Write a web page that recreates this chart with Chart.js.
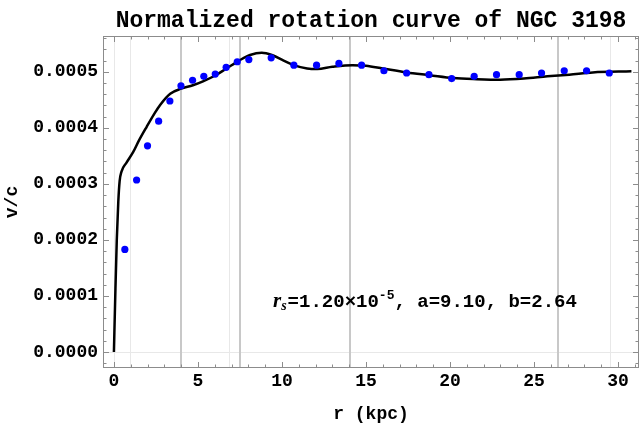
<!DOCTYPE html>
<html>
<head>
<meta charset="utf-8">
<script src="https://cdn.jsdelivr.net/npm/chart.js@4/dist/chart.umd.min.js"></script>
<style>
  html, body { margin: 0; padding: 0; background: #fff; }
  #wrap { width: 644px; height: 429px; position: relative; }
</style>
</head>
<body>
<div id="wrap"><canvas id="rotationChart"></canvas></div>
<script>
// observed rotation curve points (r in kpc, v/c)
const obsR = [0.65, 1.35, 2.0, 2.66, 3.33, 3.99, 4.68, 5.35, 6.03, 6.68, 7.34, 8.03, 9.36, 10.71,
    12.06, 13.39, 14.74, 16.07, 17.42, 18.75, 20.1, 21.44, 22.77, 24.12, 25.45, 26.8, 28.13, 29.48];
const obsV = [0.000183, 0.000307, 0.000368, 0.000412, 0.000448, 0.000475, 0.000485, 0.000492, 0.000496,
    0.000508, 0.000518, 0.000522, 0.000525, 0.000512, 0.000512, 0.000515, 0.000512, 0.000502, 0.000498,
    0.000495, 0.000488, 0.000492, 0.000495, 0.000495, 0.000498, 0.000502, 0.000502, 0.000498];

// fitted model curve
const fitR = [0, 0.08, 0.17, 0.26, 0.34, 0.45, 0.75, 1.15, 1.5, 1.95, 2.4, 2.75, 3.35, 4.0, 4.7, 5.3,
    6.0, 6.7, 7.5, 8.1, 8.8, 9.4, 10.1, 10.7, 11.5, 12.1, 13.0, 14.2, 15.0, 16.0, 17.4, 18.8, 20.2,
    21.6, 23.0, 24.4, 25.8, 27.1, 28.5, 30.8];
const fitV = [0, 0.0001, 0.0002, 0.000268, 0.000305, 0.000322, 0.000338, 0.000357, 0.000378, 0.000402,
    0.000425, 0.000441, 0.000461, 0.00047, 0.000476, 0.000483, 0.000493, 0.000506, 0.000521, 0.00053,
    0.000534, 0.00053, 0.00052, 0.000512, 0.000506, 0.000505, 0.000509, 0.000512, 0.000511, 0.000506,
    0.000499, 0.000494, 0.000489, 0.000487, 0.000486, 0.000488, 0.000492, 0.000495, 0.000499, 0.000501];

const xTicks = [0, 5, 10, 15, 20, 25, 30];
const yTicks = [0, 0.0001, 0.0002, 0.0003, 0.0004, 0.0005];
const thickLinesR = [4.0, 7.5, 14.05, 26.4];
const faintLinesR = [0, 0.95, 6.85, 29.5];

const titleText = 'Normalized rotation curve of NGC 3198';
const MONO = '"Liberation Mono", "DejaVu Sans Mono", monospace';

const framePlugin = {
    id: 'framePlugin',
    beforeDatasetsDraw(chart) {
        const { ctx, chartArea: a, scales: { x, y } } = chart;
        ctx.save();
        // faint grid lines
        ctx.strokeStyle = '#e8e8e8';
        ctx.lineWidth = 1;
        faintLinesR.forEach(r => {
            const px = Math.round(x.getPixelForValue(r)) + 0.5;
            ctx.beginPath(); ctx.moveTo(px, a.top); ctx.lineTo(px, a.bottom); ctx.stroke();
        });
        const py0 = Math.round(y.getPixelForValue(0)) + 0.5;
        ctx.beginPath(); ctx.moveTo(a.left, py0); ctx.lineTo(a.right, py0); ctx.stroke();
        // thick gray lines
        ctx.strokeStyle = '#c8c8c8';
        ctx.lineWidth = 2;
        thickLinesR.forEach(r => {
            const px = Math.round(x.getPixelForValue(r));
            ctx.beginPath(); ctx.moveTo(px, a.top); ctx.lineTo(px, a.bottom); ctx.stroke();
        });
        ctx.restore();
    },
    afterDatasetsDraw(chart) {
        const { ctx, chartArea: a, scales: { x, y } } = chart;
        ctx.save();
        ctx.strokeStyle = '#8c8c8c';
        ctx.lineWidth = 1;
        ctx.strokeRect(a.left + 0.5, a.top + 0.5, a.right - a.left - 1, a.bottom - a.top - 1);
        // inward ticks, x
        for (let i = 0; i <= 31; i++) {
            const px = Math.round(x.getPixelForValue(i)) + 0.5;
            const len = i % 5 === 0 ? 6 : 3.5;
            ctx.beginPath();
            ctx.moveTo(px, a.bottom); ctx.lineTo(px, a.bottom - len);
            ctx.moveTo(px, a.top); ctx.lineTo(px, a.top + len);
            ctx.stroke();
        }
        // inward ticks, y
        for (let j = -1; j <= 28; j++) {
            const val = j * 0.00002;
            if (val > y.max) break;
            const py = Math.round(y.getPixelForValue(val)) + 0.5;
            const len = j % 5 === 0 ? 6 : 3.5;
            ctx.beginPath();
            ctx.moveTo(a.left, py); ctx.lineTo(a.left + len, py);
            ctx.moveTo(a.right, py); ctx.lineTo(a.right - len, py);
            ctx.stroke();
        }
        ctx.restore();
    },
    afterDraw(chart) {
        const { ctx, chartArea: a } = chart;
        ctx.save();
        ctx.fillStyle = '#000';
        // title
        ctx.font = 'bold 23px ' + MONO;
        ctx.textAlign = 'center';
        ctx.textBaseline = 'alphabetic';
        ctx.fillText(titleText, (a.left + a.right) / 2, 27);
        // fit parameters
        ctx.textAlign = 'left';
        let tx = 273;
        const base = 307;
        ctx.font = 'bold italic 21px "Liberation Serif", serif';
        ctx.fillText('r', tx, base);
        tx += ctx.measureText('r').width;
        ctx.font = 'bold italic 14px "Liberation Serif", serif';
        ctx.fillText('s', tx, base + 3);
        tx += ctx.measureText('s').width + 1;
        ctx.font = 'bold 19px ' + MONO;
        ctx.fillText('=1.20\u00d710', tx, base);
        tx += ctx.measureText('=1.20\u00d710').width;
        ctx.font = 'bold 13px ' + MONO;
        ctx.fillText('-5', tx, base - 8);
        tx += ctx.measureText('-5').width;
        ctx.font = 'bold 19px ' + MONO;
        ctx.fillText(', a=9.10, b=2.64', tx, base);
        ctx.restore();
    }
};

const ctx = document.getElementById('rotationChart').getContext('2d');
new Chart(ctx, {
    type: 'scatter',
    data: {
        datasets: [{
            label: 'model',
            data: fitR.map((r, i) => ({ x: r, y: fitV[i] })),
            showLine: true,
            borderColor: '#000',
            borderWidth: 2.5,
            pointRadius: 0,
            cubicInterpolationMode: 'monotone',
            order: 2
        }, {
            label: 'data',
            data: obsR.map((r, i) => ({ x: r, y: obsV[i] })),
            backgroundColor: '#0000ff',
            borderWidth: 0,
            pointRadius: 3.6,
            order: 1
        }]
    },
    options: {
        responsive: true,
        maintainAspectRatio: false,
        animation: false,
        layout: { padding: { top: 36, right: 5, left: 0, bottom: 0 } },
        plugins: {
            legend: { display: false },
            tooltip: { enabled: false },
            title: { display: false }
        },
        scales: {
            x: {
                type: 'linear',
                min: -0.65,
                max: 31.25,
                grid: { display: false, drawTicks: false },
                border: { display: false },
                afterBuildTicks: s => { s.ticks = xTicks.map(v => ({ value: v })); },
                afterFit: s => { s.height = 61; },
                ticks: {
                    padding: 3,
                    color: '#000',
                    maxRotation: 0,
                    font: { family: MONO, size: 18, weight: 'bold' },
                    callback: v => String(v)
                },
                title: {
                    display: true,
                    text: 'r (kpc)',
                    color: '#000',
                    font: { family: MONO, size: 18, weight: 'bold' },
                    padding: { top: 0, bottom: 4 }
                }
            },
            y: {
                type: 'linear',
                min: -0.0000286,
                max: 0.000564,
                grid: { display: false, drawTicks: false },
                border: { display: false },
                afterBuildTicks: s => { s.ticks = yTicks.map(v => ({ value: v })); },
                afterFit: s => { s.width = 103; },
                ticks: {
                    padding: 5,
                    color: '#000',
                    font: { family: MONO, size: 18, weight: 'bold' },
                    callback: v => Number(v).toFixed(4)
                },
                title: {
                    display: true,
                    text: 'v/c',
                    color: '#000',
                    font: { family: MONO, size: 18, weight: 'bold' },
                    padding: { top: 2, bottom: 0 }
                }
            }
        }
    },
    plugins: [framePlugin]
});
</script>
</body>
</html>
